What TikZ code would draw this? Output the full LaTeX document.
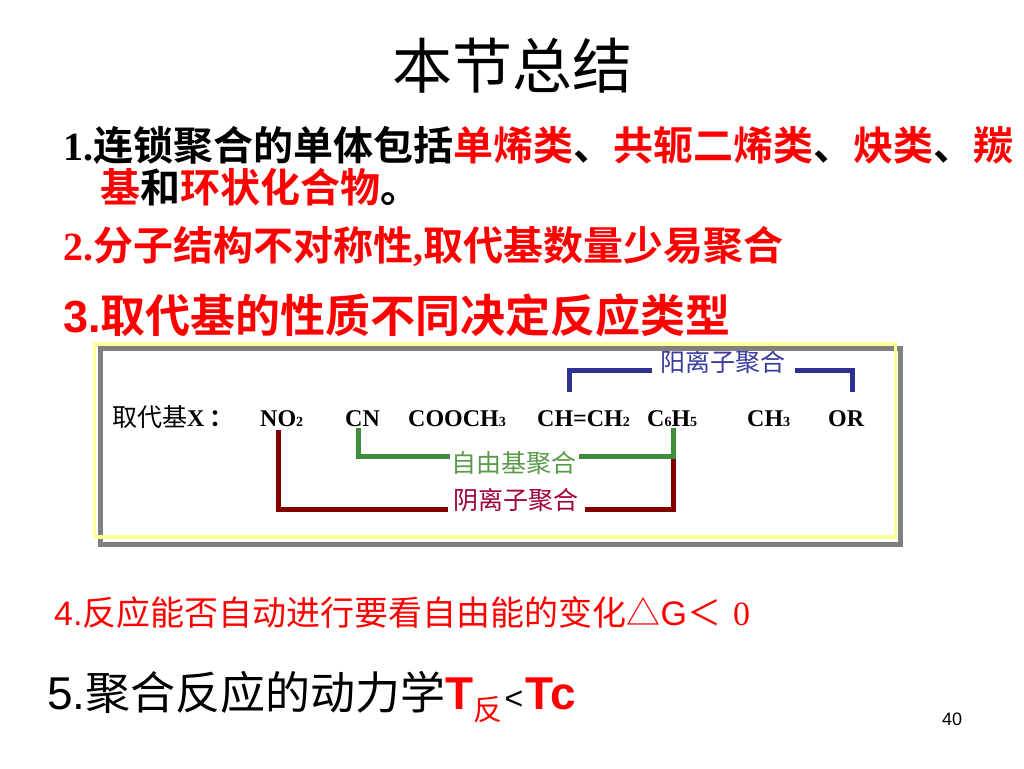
\documentclass[tikz,border=0pt]{standalone}
\usepackage{fontspec}
\usepackage{xcolor}
\setmainfont{Liberation Serif}
\newfontfamily\arial{Liberation Sans}
\newfontfamily\cjk[BoldFont={Noto Sans CJK SC Bold}]{Noto Sans CJK SC}
\definecolor{cationc}{HTML}{2E3192}
\definecolor{cationt}{HTML}{3B3B9E}
\definecolor{radicalc}{HTML}{3E8E3E}
\definecolor{radicalt}{HTML}{5A9A4A}
\definecolor{anionc}{HTML}{800000}
\definecolor{aniont}{HTML}{A0003C}
\definecolor{boxyellow}{HTML}{FFFF99}
\definecolor{boxgray}{HTML}{808080}
\newcommand{\chemsub}[1]{{\fontsize{14}{14}\selectfont #1}}

\begin{document}
\begin{tikzpicture}[x=1pt,y=-1pt,
  grp/.style={anchor=base west,inner sep=0pt,font=\fontsize{24}{28}\selectfont\bfseries},
  tag/.style={fill=white,inner ysep=1pt,font=\cjk\fontsize{25}{28}\selectfont},
  bracket/.style={line width=5pt,line join=miter}]
\fill[white] (0,0) rectangle (1024,768);
\useasboundingbox (0,0) rectangle (1024,768);

\node[anchor=base,font=\cjk\fontsize{60}{66}\selectfont] (title) at (512,88) {本节总结};

\node[anchor=base west,inner sep=0pt,font=\fontsize{40}{48}\selectfont\bfseries] (item1) at (63,160)
  {1.{\cjk 连锁聚合的单体包括\textcolor{red}{单烯类}、\textcolor{red}{共轭二烯类}、\textcolor{red}{炔类}、\textcolor{red}{羰}}};
\node[anchor=base west,inner sep=0pt,font=\fontsize{40}{48}\selectfont\bfseries] (item1b) at (100,202)
  {{\cjk \textcolor{red}{基}和\textcolor{red}{环状化合物}。}};
\node[anchor=base west,inner sep=0pt,text=red,font=\fontsize{40}{48}\selectfont\bfseries] (item2) at (63,260)
  {2.{\cjk 分子结构不对称性},{\cjk 取代基数量少易聚合}};
\node[anchor=base west,inner sep=0pt,text=red,font=\fontsize{45}{52}\selectfont\bfseries] (item3) at (63,332)
  {{\arial 3.}{\cjk 取代基的性质不同决定反应类型}};

% substituents
\node[grp] (head) at (112,426) {{\cjk\mdseries\fontsize{25}{28}\selectfont 取代基}X\hspace{5pt}{\cjk ：}};
\node[grp] (nitro) at (260,426) {NO\chemsub{2}};
\node[grp] (cyano) at (345,426) {CN};
\node[grp] (ester) at (408,426) {COOCH\chemsub{3}};
\node[grp] (vinyl) at (537,426) {CH=CH\chemsub{2}};
\node[grp] (phenyl) at (647,426) {C\chemsub{6}H\chemsub{5}};
\node[grp] (methyl) at (747,426) {CH\chemsub{3}};
\node[grp] (alkoxy) at (828,426) {OR};

\draw[bracket,anionc] ([xshift=18pt,yshift=-4pt]nitro.south west) -- ++(0,79)
  -| ([xshift=26pt,yshift=-31pt]phenyl.south west);
\draw[bracket,radicalc] ([xshift=13pt,yshift=-2pt]cyano.south west) -- ++(0,28)
  -| ([xshift=26pt,yshift=-2pt]phenyl.south west);
\draw[bracket,cationc] ([xshift=32pt,yshift=18pt]vinyl.north west) -- ++(0,-21)
  -| ([xshift=24pt,yshift=18pt]alkoxy.north west);

\node[tag,text=cationt,inner xsep=9pt] (cation) at (723,362) {阳离子聚合};
\node[tag,text=radicalt,inner xsep=2pt] (radical) at (514,463) {自由基聚合};
\node[tag,text=aniont,inner xsep=6pt] (anion) at (516,500) {阴离子聚合};

\draw[boxgray,line width=5pt] (100,348.5) rectangle (900,544);
\draw[boxyellow,line width=3.5pt] (94.5,344) rectangle (895.5,537);

\node[anchor=base west,inner sep=0pt,text=red,font=\fontsize{34}{40}\selectfont] (item4) at (54,625)
  {{\arial 4.}{\cjk 反应能否自动进行要看自由能的变化△}{\arial G}{\cjk ＜}\hspace{12pt}0};
\node[anchor=base west,inner sep=0pt,font=\fontsize{45}{50}\selectfont] (item5) at (47,709)
  {{\arial\fontsize{46}{50}\selectfont 5.}{\cjk 聚合反应的动力学}{\color{red}\arial\bfseries\fontsize{46}{50}\selectfont T}\raisebox{-11pt}{\color{red}\cjk\fontsize{29}{32}\selectfont 反}\hspace{2pt}{\arial\fontsize{32}{34}\selectfont <}\hspace{2pt}{\color{red}\arial\bfseries\fontsize{46}{50}\selectfont Tc}};
\node[anchor=base west,inner sep=0pt,font=\arial\fontsize{18}{20}\selectfont] (pageno) at (942,725) {40};
\end{tikzpicture}
\end{document}
